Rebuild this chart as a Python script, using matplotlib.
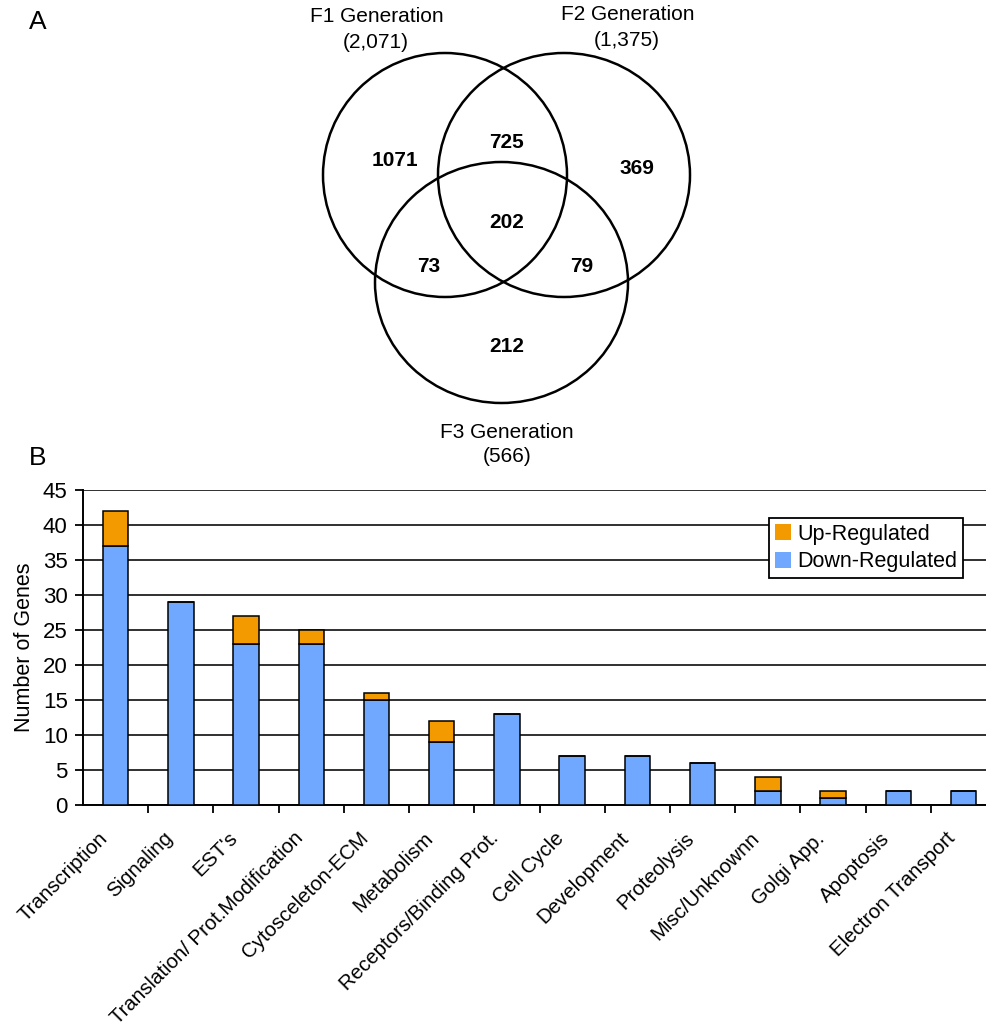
import matplotlib
matplotlib.use("Agg")
import matplotlib.pyplot as plt
from matplotlib.patches import Ellipse, Patch
from matplotlib.transforms import ScaledTranslation
import numpy as np

plt.rcParams['font.family'] = ['Liberation Sans', 'DejaVu Sans']

# ---- Data ----
categories = ["Transcription", "Signaling", "EST's", "Translation/ Prot.Modification",
              "Cytosceleton-ECM", "Metabolism", "Receptors/Binding Prot.", "Cell Cycle",
              "Development", "Proteolysis", "Misc/Unknownn", "Golgi App.", "Apoptosis",
              "Electron Transport"]
down_regulated = [37, 29, 23, 23, 15, 9, 13, 7, 7, 6, 2, 1, 2, 2]
up_regulated = [5, 0, 4, 2, 1, 3, 0, 0, 0, 0, 2, 1, 0, 0]

venn_sets = ["F1 Generation", "F2 Generation", "F3 Generation"]
venn_totals = ["(2,071)", "(1,375)", "(566)"]
venn_regions = {"F1": "1071", "F1F2": "725", "F2": "369", "F1F2F3": "202",
                "F1F3": "73", "F2F3": "79", "F3": "212"}

W, H = 987, 1031
fig = plt.figure(figsize=(W / 100, H / 100), dpi=100)

# ---- Panel A: Venn (pixel coordinate overlay) ----
va = fig.add_axes([0, 0, 1, 1])
va.set_xlim(0, W)
va.set_ylim(H, 0)
va.axis('off')
circles = [((445, 175), 244, 244), ((564, 175), 252, 244), ((501.5, 282.5), 253, 241)]
for (c, w, h) in circles:
    va.add_patch(Ellipse(c, w, h, fill=False, edgecolor='black', lw=1.8))

tfs = 15
va.text(377, 17, venn_sets[0], ha='center', va='center', fontsize=tfs)
va.text(376, 43, venn_totals[0], ha='center', va='center', fontsize=tfs)
va.text(628, 15, venn_sets[1], ha='center', va='center', fontsize=tfs)
va.text(627, 41, venn_totals[1], ha='center', va='center', fontsize=tfs)
va.text(507, 432, venn_sets[2], ha='center', va='center', fontsize=tfs)
va.text(507, 456, venn_totals[2], ha='center', va='center', fontsize=tfs)

rpos = {"F1": (395, 160), "F1F2": (507, 142), "F2": (637, 168), "F1F2F3": (507, 222),
        "F1F3": (429, 267), "F2F3": (582, 267), "F3": (507, 347)}
for k, v in venn_regions.items():
    va.text(*rpos[k], v, ha='center', va='center', fontsize=15, fontweight='bold')

va.text(38, 22, "A", ha='center', va='center', fontsize=19)
va.text(38, 458, "B", ha='center', va='center', fontsize=19)

# ---- Panel B: stacked bars ----
ax = fig.add_axes([83 / W, 1 - 805 / H, 1 - 83 / W, (805 - 490) / H])
x = np.arange(len(categories))
bw = 0.39
up_color = '#F39A00'
down_color = '#6FA8FE'
ax.bar(x, down_regulated, bw, color=down_color, edgecolor='black', lw=1.1, zorder=3,
       label='Down-Regulated')
ax.bar(x, up_regulated, bw, bottom=down_regulated, color=up_color, edgecolor='black',
       lw=1.1, zorder=3, label='Up-Regulated')

ax.set_ylim(0, 45)
ax.set_xlim(-0.5, 13.36)
ax.set_yticks(np.arange(0, 46, 5))
ax.yaxis.grid(True, color='#303030', lw=1.4, zorder=0)
ax.set_axisbelow(True)
for s in ['top', 'right']:
    ax.spines[s].set_visible(False)
ax.spines['left'].set_linewidth(1.4)
ax.spines['bottom'].set_linewidth(1.4)
ax.tick_params(axis='y', labelsize=16, length=6, width=1.3, direction='out', pad=5)

ax.set_xticks(x)
ax.set_xticklabels(categories, rotation=45, ha='right', rotation_mode='anchor',
                   fontsize=14.7)
ax.tick_params(axis='x', which='major', length=0, pad=17)
offset = ScaledTranslation(-18 / 100, 0, fig.dpi_scale_trans)
for lbl in ax.get_xticklabels():
    lbl.set_transform(lbl.get_transform() + offset)
ax.set_xticks(np.arange(0.5, len(categories) - 0.5, 1), minor=True)
ax.tick_params(axis='x', which='minor', length=6, width=1.3, direction='out')
ax.set_ylabel("Number of Genes", fontsize=15.5, labelpad=6)

handles = [Patch(facecolor=up_color, edgecolor='none'),
           Patch(facecolor=down_color, edgecolor='none')]
leg = ax.legend(handles, ['Up-Regulated', 'Down-Regulated'], loc='upper right',
                bbox_to_anchor=(0.973, 0.91), fontsize=15.5, frameon=True,
                fancybox=False, framealpha=1, edgecolor='black', handlelength=0.75,
                handleheight=0.75, handletextpad=0.3, borderpad=0.25, labelspacing=0.3,
                borderaxespad=0)
leg.get_frame().set_linewidth(1.3)
leg.set_zorder(5)

fig.savefig('out.png', dpi=100)
